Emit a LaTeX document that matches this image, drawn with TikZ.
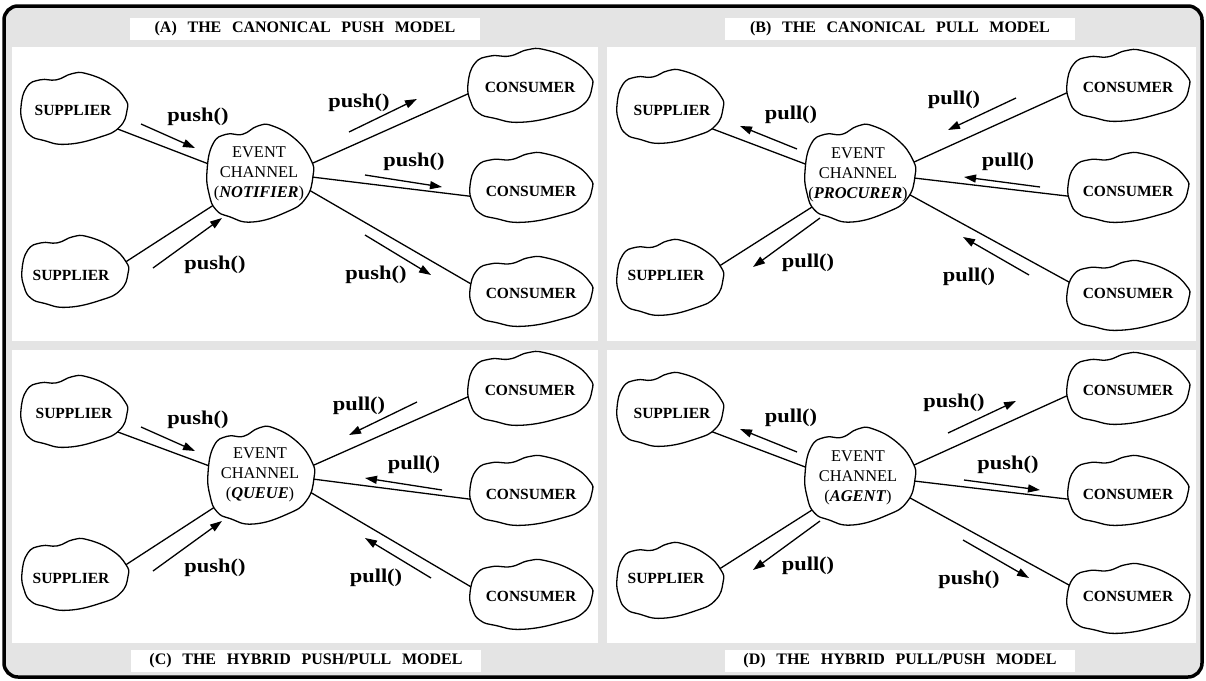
\documentclass[tikz,border=0pt]{standalone}
\usepackage{graphicx}
\usepackage{fontspec}
\setmainfont{Liberation Serif}
\usetikzlibrary{shapes.geometric,arrows.meta}

\definecolor{framefill}{RGB}{228,228,228}

\pgfdeclarelayer{panels}
\pgfdeclarelayer{wires}
\pgfdeclarelayer{blobs}
\pgfsetlayers{panels,wires,blobs,main}

\tikzset{
  frame/.style={draw=black, line width=3.5pt, rounded corners=14pt, fill=framefill},
  panel/.style={fill=white, draw=none},
  titlebox/.style={fill=white, minimum width=350pt, minimum height=22pt, inner sep=0pt,
                   font=\fontsize{16}{18}\selectfont\bfseries},
  hub/.style={ellipse, inner sep=0pt, outer sep=0pt, draw=none},
  wire/.style={line width=1.3pt},
  flow/.style={line width=1.3pt, -{Triangle[length=12pt,width=8pt]}},
  callname/.style={font=\fontsize{19.5}{24}\selectfont\bfseries, inner sep=0pt},
  roletext/.style={font=\fontsize{15.5}{18}\selectfont\bfseries, inner sep=0pt},
  ectext/.style={font=\fontsize{16.4}{20}\selectfont, align=center, inner sep=0pt},
  outline/.style={line width=1.3pt, fill=white},
}

% wavy closed outline around a named hub: name, position, rx, ry, extra options
\newcommand\party[5]{%
  \node[hub, minimum width={1.8*#3pt}, minimum height={1.8*#4pt}] (#1) at #2 {};
  \begin{pgfonlayer}{blobs}
    \draw[outline, shift={(#1.center)}, x=#3pt, y=#4pt, #5]
      plot[smooth cycle, tension=0.8] coordinates {
        (-1,0.06) (-0.89,0.61) (-0.64,0.81) (-0.33,0.81) (-0.04,0.98) (0.24,0.98)
        (0.68,0.70) (0.96,0.29) (1.0,-0.04) (0.86,-0.5) (0.49,-0.78) (-0.14,-0.98)
        (-0.58,-0.87) (-0.83,-0.73) (-0.96,-0.41)};
  \end{pgfonlayer}}

% straight link between two hubs, drawn beneath the outlines
\newcommand\wire[4]{%
  \begin{pgfonlayer}{wires}\draw[wire] (#1.#2) -- (#3.#4);\end{pgfonlayer}}

% operation arrow with its call name: name, start, end, label position, text
\newcommand\flow[5]{%
  \coordinate (#1s) at #2; \coordinate (#1e) at #3;
  \draw[flow] (#1s) -- (#1e);
  \node[callname] (#1l) at #4 {\scalebox{1.15}[1]{#5}};}

\newcommand\ws{\hspace{0.67em}}

\begin{document}
\begin{tikzpicture}[x=1pt, y=-1pt]
\useasboundingbox (0,0) rectangle (1206,680);

\begin{pgfonlayer}{panels}
  \draw[frame] (4,6) rectangle (1202,677);
  \fill[panel] (12,47) rectangle (598,341);
  \fill[panel] (607,47) rectangle (1196,341);
  \fill[panel] (12,350) rectangle (598,643);
  \fill[panel] (607,350) rectangle (1196,643);
\end{pgfonlayer}

\node[titlebox] (ta) at (305,29)  {(A)\ws THE\ws CANONICAL\ws PUSH\ws MODEL};
\node[titlebox] (tb) at (900,29)  {(B)\ws THE\ws CANONICAL\ws PULL\ws MODEL};
\node[titlebox] (tc) at (306,661) {(C)\ws THE\ws HYBRID\ws PUSH/PULL\ws MODEL};
\node[titlebox] (td) at (900,661) {(D)\ws THE\ws HYBRID\ws PULL/PUSH\ws MODEL};

% ---------------- (A) canonical push ----------------
\party{a-s1}{(74,109)}{53}{36}{}
\party{a-s2}{(75,272)}{53}{36}{}
\party{a-ec}{(260,174)}{53}{49}{}
\party{a-c1}{(530,86)}{62}{37}{}
\party{a-c2}{(531,188)}{61}{35}{}
\party{a-c3}{(531,292)}{61}{35}{}
\node[roletext] (a-s1t) at (73,110) {SUPPLIER};
\node[roletext] (a-s2t) at (71,275) {SUPPLIER};
\node[roletext] (a-c1t) at (530,87) {CONSUMER};
\node[roletext] (a-c2t) at (531,191) {CONSUMER};
\node[roletext] (a-c3t) at (531,293) {CONSUMER};
\node[ectext] (a-ect) at (259,174) {EVENT\\CHANNEL\\(\textbf{\textit{NOTIFIER}})};
\wire{a-s1}{-25}{a-ec}{170}
\wire{a-s2}{9}{a-ec}{-146}
\wire{a-ec}{10}{a-c1}{185}
\wire{a-ec}{-3}{a-c2}{190}
\wire{a-ec}{-17}{a-c3}{175}
\flow{a-f1}{(141,124)}{(195,148)}{(198,117)}{push()}
\flow{a-f2}{(153,268)}{(222,218)}{(215,265)}{push()}
\flow{a-f3}{(349,132)}{(417,99)}{(359,103)}{push()}
\flow{a-f4}{(365,175)}{(442,187)}{(414,162)}{push()}
\flow{a-f5}{(365,235)}{(431,275)}{(376,275)}{push()}

% ---------------- (B) canonical pull ----------------
\party{b-s1}{(670,107)}{53}{37}{}
\party{b-s2}{(670,278)}{53}{38}{}
\party{b-ec}{(860,174)}{55}{49}{}
\party{b-c1}{(1128,86)}{61}{36}{}
\party{b-c2}{(1128,188)}{60}{35}{}
\party{b-c3}{(1128,296)}{61}{35}{}
\node[roletext] (b-s1t) at (672,110) {SUPPLIER};
\node[roletext] (b-s2t) at (666,275) {SUPPLIER};
\node[roletext] (b-c1t) at (1128,87) {CONSUMER};
\node[roletext] (b-c2t) at (1128,191) {CONSUMER};
\node[roletext] (b-c3t) at (1128,293) {CONSUMER};
\node[ectext] (b-ect) at (858,175) {EVENT\\CHANNEL\\(\textbf{\textit{PROCURER}})};
\wire{b-s1}{-28}{b-ec}{171}
\wire{b-s2}{12}{b-ec}{-145}
\wire{b-ec}{11}{b-c1}{184}
\wire{b-ec}{-4}{b-c2}{190}
\wire{b-ec}{-22}{b-c3}{169}
\flow{b-f1}{(797,149)}{(740,126)}{(791,115)}{pull()}
\flow{b-f2}{(820,218)}{(753,267)}{(808,263)}{pull()}
\flow{b-f3}{(1016,98)}{(948,130)}{(954,100)}{pull()}
\flow{b-f4}{(1040,187)}{(964,177)}{(1008,162)}{pull()}
\flow{b-f5}{(1029,275)}{(963,237)}{(969,277)}{pull()}

% ---------------- (C) hybrid push/pull ----------------
\party{c-s1}{(74,412)}{53}{36}{}
\party{c-s2}{(75,575)}{53}{36}{}
\party{c-ec}{(261,476)}{53}{49}{}
\party{c-c1}{(530,389)}{62}{37}{}
\party{c-c2}{(531,491)}{61}{35}{}
\party{c-c3}{(531,595)}{61}{35}{}
\node[roletext] (c-s1t) at (74,413) {SUPPLIER};
\node[roletext] (c-s2t) at (71,578) {SUPPLIER};
\node[roletext] (c-c1t) at (530,390) {CONSUMER};
\node[roletext] (c-c2t) at (531,494) {CONSUMER};
\node[roletext] (c-c3t) at (531,596) {CONSUMER};
\node[ectext] (c-ect) at (260,475) {EVENT\\CHANNEL\\(\textbf{\textit{QUEUE}})};
\wire{c-s1}{-25}{c-ec}{170}
\wire{c-s2}{9}{c-ec}{-146}
\wire{c-ec}{10}{c-c1}{185}
\wire{c-ec}{-3}{c-c2}{190}
\wire{c-ec}{-17}{c-c3}{175}
\flow{c-f1}{(141,427)}{(195,451)}{(198,420)}{push()}
\flow{c-f2}{(153,571)}{(222,521)}{(215,568)}{push()}
\flow{c-f3}{(417,402)}{(349,435)}{(359,406)}{pull()}
\flow{c-f4}{(442,490)}{(365,478)}{(414,465)}{pull()}
\flow{c-f5}{(431,578)}{(365,538)}{(376,578)}{pull()}

% ---------------- (D) hybrid pull/push ----------------
\party{d-s1}{(670,410)}{53}{37}{}
\party{d-s2}{(670,581)}{53}{38}{}
\party{d-ec}{(860,477)}{55}{49}{}
\party{d-c1}{(1128,389)}{61}{36}{}
\party{d-c2}{(1128,491)}{60}{35}{}
\party{d-c3}{(1128,599)}{61}{35}{}
\node[roletext] (d-s1t) at (672,413) {SUPPLIER};
\node[roletext] (d-s2t) at (666,578) {SUPPLIER};
\node[roletext] (d-c1t) at (1128,390) {CONSUMER};
\node[roletext] (d-c2t) at (1128,494) {CONSUMER};
\node[roletext] (d-c3t) at (1128,596) {CONSUMER};
\node[ectext] (d-ect) at (858,478) {EVENT\\CHANNEL\\(\textbf{\textit{AGENT}})};
\wire{d-s1}{-28}{d-ec}{171}
\wire{d-s2}{12}{d-ec}{-145}
\wire{d-ec}{11}{d-c1}{184}
\wire{d-ec}{-4}{d-c2}{190}
\wire{d-ec}{-22}{d-c3}{169}
\flow{d-f1}{(797,452)}{(740,429)}{(791,418)}{pull()}
\flow{d-f2}{(820,521)}{(753,570)}{(808,566)}{pull()}
\flow{d-f3}{(948,433)}{(1016,401)}{(954,403)}{push()}
\flow{d-f4}{(964,480)}{(1040,490)}{(1008,465)}{push()}
\flow{d-f5}{(963,540)}{(1029,578)}{(969,580)}{push()}
\end{tikzpicture}
\end{document}
